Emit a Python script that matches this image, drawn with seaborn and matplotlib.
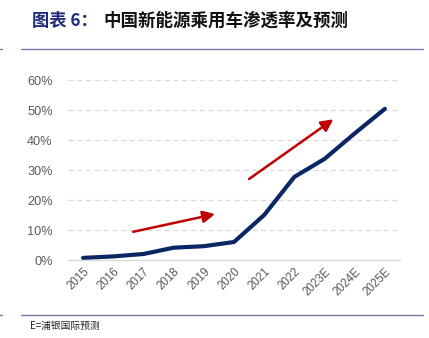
import matplotlib
matplotlib.use("Agg")
import matplotlib.pyplot as plt
import seaborn as sns
import pandas as pd
from matplotlib.lines import Line2D

years = ["2015", "2016", "2017", "2018", "2019", "2020", "2021", "2022", "2023E", "2024E", "2025E"]
penetration = [0.008, 0.013, 0.021, 0.042, 0.047, 0.061, 0.151, 0.278, 0.338, 0.423, 0.505]
yticks = [0.0, 0.1, 0.2, 0.3, 0.4, 0.5, 0.6]
ytick_labels = ["0%", "10%", "20%", "30%", "40%", "50%", "60%"]
arrow1 = [(1.66, 0.095), (4.37, 0.154)]
arrow2 = [(5.5, 0.271), (8.29, 0.47)]

title_prefix = "图表 6："
title_main = "中国新能源乘用车渗透率及预测"
footer = "E=浦银国际预测"

sns.set_theme(style="white")
plt.rcParams['font.family'] = ['Noto Sans CJK SC', 'DejaVu Sans']

df = pd.DataFrame({"year": years, "pen": penetration})
df["x"] = range(len(years))

fig = plt.figure(figsize=(4.29, 3.38), dpi=100)
ax = fig.add_axes([68/429, 1-260.3/338, (400-68)/429, (260.3-80.3)/338])

sns.lineplot(data=df, x="x", y="pen", ax=ax, color="#0a2763", linewidth=3.0,
             solid_capstyle="round", solid_joinstyle="round")

ax.set_xlim(-0.5, len(years) - 0.5)
ax.set_ylim(0, 0.6)
ax.set_yticks(yticks)
ax.set_yticklabels(ytick_labels, color="#595959", fontsize=9.2, family=['Liberation Sans', 'DejaVu Sans'])
ax.set_xticks(df["x"])
ax.set_xticklabels(years, rotation=45, ha="right", rotation_mode="anchor",
                   color="#595959", fontsize=8.3, family=['Liberation Sans', 'DejaVu Sans'])
ax.tick_params(axis="both", length=0, pad=4)
ax.tick_params(axis="y", pad=11)
ax.set_xlabel("")
ax.set_ylabel("")
for s in ["top", "right", "left"]:
    ax.spines[s].set_visible(False)
ax.spines["bottom"].set_color("#d9d9d9")
ax.spines["bottom"].set_linewidth(1.0)
for y in yticks[1:]:
    ax.axhline(y, color="#d9d9d9", linestyle=(0, (4, 3)), linewidth=0.9, zorder=0)

for (x0, y0), (x1, y1) in [arrow1, arrow2]:
    ax.annotate("", xy=(x1, y1), xytext=(x0, y0),
                arrowprops=dict(arrowstyle="-|>,head_length=0.6,head_width=0.3",
                                color="#c00000", lw=1.8, shrinkA=0, shrinkB=0))

# title
fig.text(32/429, 1-21/338, title_prefix, color="#1f2a7a", fontsize=12.4,
         fontweight="bold", va="center", ha="left")
fig.text(103/429, 1-21/338, title_main, color="#111111", fontsize=12.6,
         fontweight="bold", va="center", ha="left")

# rules
for yy in [49, 315]:
    fig.add_artist(Line2D([21/429, 423/429], [1-yy/338, 1-yy/338], color="#7a78a8", lw=1.0))
    fig.add_artist(Line2D([0, 2/429], [1-yy/338, 1-yy/338], color="#7a78a8", lw=1.0))

fig.text(30/429, 1-326/338, footer, color="#222222", fontsize=7, va="center", ha="left")

fig.savefig("out.png", dpi=100)
